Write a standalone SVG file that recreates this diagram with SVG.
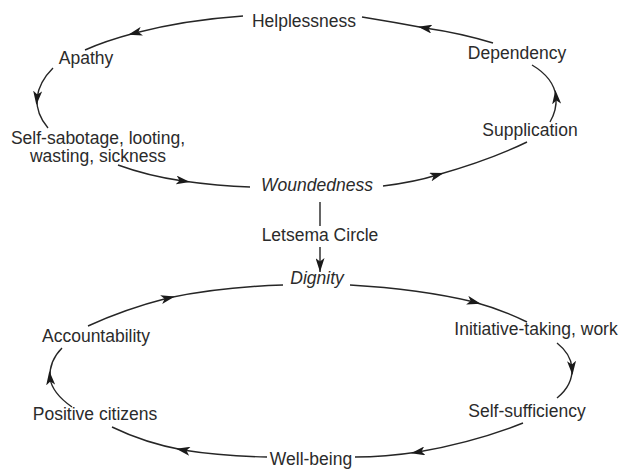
<svg xmlns="http://www.w3.org/2000/svg" width="621" height="471" viewBox="0 0 621 471">
  <style>
    .lbl { font-family: "Liberation Sans", Arial, sans-serif; font-size: 17.5px; fill: #2b2b2b; text-anchor: middle; }
    .it { font-style: italic; }
    .conn { fill: none; stroke: #262626; stroke-width: 1.4; }
    .mid { marker-mid: url(#head-mid); }
    .end { marker-end: url(#head-end); }
  </style>
  <defs>
    <marker id="head-mid" viewBox="0 0 14 9" refX="7" refY="4.5" markerWidth="14" markerHeight="9" markerUnits="userSpaceOnUse" orient="auto">
      <path d="M0,0 L14,4.5 L0,9 L3.5,4.5 Z" fill="#1a1a1a"/>
    </marker>
    <marker id="head-end" viewBox="0 0 14 9" refX="14" refY="4.5" markerWidth="14" markerHeight="9" markerUnits="userSpaceOnUse" orient="auto">
      <path d="M0,0 L14,4.5 L0,9 L3.5,4.5 Z" fill="#1a1a1a"/>
    </marker>
  </defs>
  <rect width="621" height="471" fill="#ffffff"/>

  <!-- connectors -->
  <g id="connectors">
    <!-- upper cycle -->
    <path class="conn mid" d="M243,16 Q185,20 135,33 Q105,41 85,50"/>
    <path class="conn mid" d="M53,68 Q39,82 37,98 Q36,114 48,128"/>
    <path class="conn mid" d="M118,165 Q148,176 183,181 Q218,186 250,187"/>
    <path class="conn mid" d="M383,186 Q415,182 437,175 Q490,160 527,142"/>
    <path class="conn mid" d="M550,122 Q557,110 556,97 Q554,78 532,65"/>
    <path class="conn mid" d="M493,43 Q460,33 425,28 Q393,22 362,17"/>
    <!-- transition -->
    <path class="conn end" d="M320,202 V226 M320,247 V272"/>
    <!-- lower cycle -->
    <path class="conn mid" d="M350,285 Q420,289 474,302 Q503,310 527,322"/>
    <path class="conn mid" d="M557,343 Q571,354 572,368 Q573,385 557,398"/>
    <path class="conn mid" d="M523,423 Q475,442 418,452 Q385,457 355,457"/>
    <path class="conn mid" d="M267,457 Q220,456 183,450 Q145,443 112,427"/>
    <path class="conn mid" d="M72,407 Q52,393 50,378 Q49,361 62,348"/>
    <path class="conn mid" d="M88,326 Q125,309 168,298 Q220,287 283,285"/>
  </g>

  <!-- upper cycle nodes -->
  <g id="helplessness"><text class="lbl" x="304" y="27">Helplessness</text></g>
  <g id="apathy"><text class="lbl" x="86" y="64">Apathy</text></g>
  <g id="self-sabotage">
    <text class="lbl" x="98" y="144">Self-sabotage, looting,</text>
    <text class="lbl" x="98" y="162">wasting, sickness</text>
  </g>
  <g id="woundedness"><text class="lbl it" x="317" y="191">Woundedness</text></g>
  <g id="supplication"><text class="lbl" x="530" y="136">Supplication</text></g>
  <g id="dependency"><text class="lbl" x="517" y="59">Dependency</text></g>

  <!-- transition label -->
  <g id="letsema-circle"><text class="lbl" x="320" y="241">Letsema Circle</text></g>

  <!-- lower cycle nodes -->
  <g id="dignity"><text class="lbl it" x="317" y="284">Dignity</text></g>
  <g id="initiative"><text class="lbl" x="536" y="335">Initiative-taking, work</text></g>
  <g id="self-sufficiency"><text class="lbl" x="527" y="417">Self-sufficiency</text></g>
  <g id="well-being"><text class="lbl" x="311" y="465">Well-being</text></g>
  <g id="positive-citizens"><text class="lbl" x="95" y="420">Positive citizens</text></g>
  <g id="accountability"><text class="lbl" x="96" y="342">Accountability</text></g>
</svg>
